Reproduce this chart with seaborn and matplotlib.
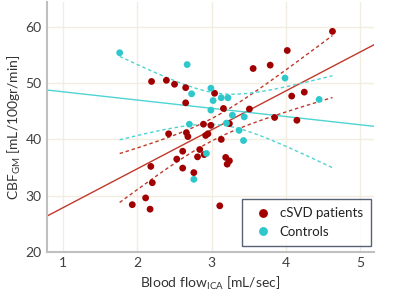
import numpy as np
import pandas as pd
import matplotlib
matplotlib.use("Agg")
import matplotlib.pyplot as plt
import seaborn as sns

# values
patients_flow = [2.19, 2.39, 2.50, 2.65, 2.65, 3.04, 2.89, 2.99, 2.42, 2.66,
                 2.68, 2.92, 2.95, 3.16, 3.24, 3.51, 3.56, 3.79, 4.02, 4.63,
                 4.25, 4.08, 3.85, 4.15, 3.13, 2.18, 2.20, 2.11, 1.93, 2.17,
                 2.61, 2.53, 2.61, 2.76, 2.84, 2.81, 2.90, 3.19, 3.24, 3.21,
                 3.11]
patients_cbf = [50.3, 50.5, 49.8, 49.2, 46.5, 48.2, 42.7, 42.5, 41.0, 41.2,
                40.5, 40.7, 41.0, 45.5, 42.8, 45.4, 52.6, 53.2, 55.8, 59.2,
                48.4, 47.7, 43.9, 43.4, 40.0, 35.2, 32.3, 29.6, 28.4, 27.6,
                37.9, 36.5, 34.9, 34.1, 38.2, 36.9, 37.3, 36.8, 36.2, 35.6,
                28.2]
controls_flow = [1.76, 2.67, 2.73, 2.99, 3.02, 2.99, 2.70, 3.13, 3.22, 3.28,
                 3.44, 3.99, 4.45, 3.20, 3.37, 3.43, 2.76, 2.93]
controls_cbf = [55.4, 53.3, 48.1, 49.1, 46.9, 45.2, 42.7, 47.4, 47.4, 44.3,
                44.0, 50.9, 47.1, 42.9, 41.6, 39.8, 32.9, 37.5]

groups = ["cSVD patients", "Controls"]
colors = {"cSVD patients": "#a00000", "Controls": "#2ec8cc"}
line_colors = {"cSVD patients": "#c0392b", "Controls": "#4fd3d3"}

df = pd.DataFrame({
    "flow": patients_flow + controls_flow,
    "cbf": patients_cbf + controls_cbf,
    "group": [groups[0]] * len(patients_flow) + [groups[1]] * len(controls_flow),
})

sns.set_theme(style="white")
plt.rcParams["font.family"] = ["Lato", "DejaVu Sans"]
plt.rcParams["mathtext.fontset"] = "custom"
plt.rcParams["mathtext.rm"] = "Lato"
plt.rcParams["mathtext.it"] = "Lato:italic"

fig, ax = plt.subplots(figsize=(4, 3.01), dpi=100)
fig.subplots_adjust(left=0.1175, right=0.935, bottom=0.163, top=0.993)
ax.set_xlim(0.78, 5.19)
ax.set_ylim(20, 64.4)

# 95% confidence band of the fitted line (t quantiles for n-2 dof)
t_vals = {"cSVD patients": 2.023, "Controls": 2.120}
xs = np.linspace(df["flow"].min(), df["flow"].max(), 100)
for g in groups:
    sub = df[df["group"] == g]
    x = sub["flow"].to_numpy()
    y = sub["cbf"].to_numpy()
    sns.regplot(x=x, y=y, ax=ax, scatter=False, ci=None, truncate=False,
                line_kws={"color": line_colors[g], "lw": 1.0, "zorder": 2})
    b, a = np.polyfit(x, y, 1)
    resid = y - (a + b * x)
    s = np.sqrt((resid ** 2).sum() / (len(x) - 2))
    se = s * np.sqrt(1 / len(x) + (xs - x.mean()) ** 2 / ((x - x.mean()) ** 2).sum())
    fit = a + b * xs
    for sign in (1, -1):
        ax.plot(xs, fit + sign * t_vals[g] * se, color=line_colors[g], lw=1.0,
                ls=(0, (2.5, 2)), zorder=2)

sns.scatterplot(data=df, x="flow", y="cbf", hue="group", palette=colors,
                s=24, linewidth=0, ax=ax, zorder=3)

ax.set_xticks([1, 2, 3, 4, 5])
ax.set_yticks([20, 30, 40, 50, 60])
ax.grid(True, color="#f1ede0", lw=1)
ax.set_axisbelow(True)
for side in ("top", "right"):
    ax.spines[side].set_visible(False)
for side in ("left", "bottom"):
    ax.spines[side].set_color("#bfbfbf")
    ax.spines[side].set_linewidth(1.5)
ax.tick_params(length=0, labelsize=10, colors="#404040", pad=4)

ax.set_xlabel("Blood flow$_\\mathrm{ICA}$ [mL/sec]", fontsize=10, color="#333333")
ax.set_ylabel("CBF$_\\mathrm{GM}$ [mL/100gr/min]", fontsize=10, color="#333333",
              labelpad=2)

leg = ax.legend(loc="lower right", fontsize=9.5, frameon=True, fancybox=False,
                borderpad=0.6, labelspacing=0.5, handletextpad=0.25,
                markerscale=1.3, bbox_to_anchor=(1.01, -0.002))
leg.get_frame().set_edgecolor("#2e3b55")
leg.get_frame().set_linewidth(1.0)
for t in leg.get_texts():
    t.set_color("#222222")

fig.savefig("out.png", dpi=100)
